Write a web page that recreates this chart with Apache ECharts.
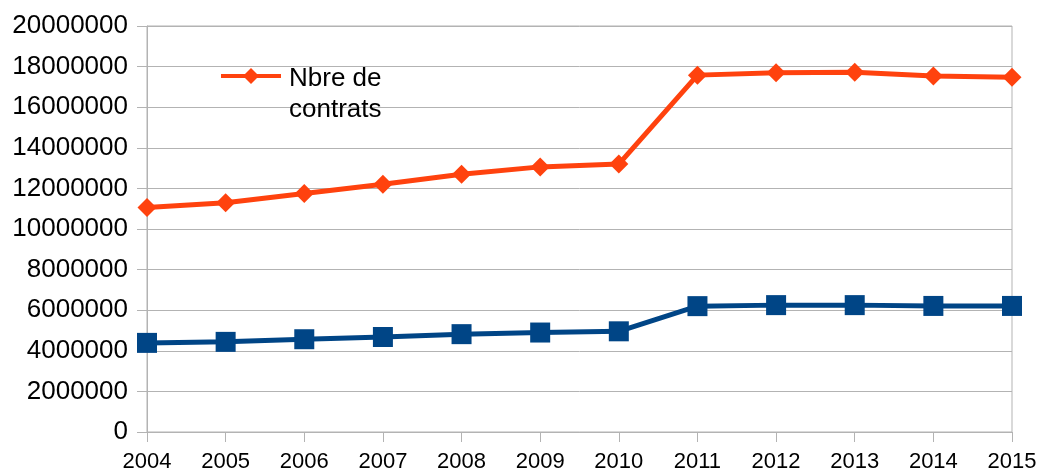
<!DOCTYPE html>
<html>
<head>
<meta charset="utf-8">
<script src="https://cdn.jsdelivr.net/npm/echarts@6/dist/echarts.min.js"></script>
<style>
  html, body { margin: 0; padding: 0; background: #ffffff; }
  #chart { width: 1043px; height: 475px; }
</style>
</head>
<body>
<div id="chart"></div>
<script>
// Years on the category axis
const years = ['2004', '2005', '2006', '2007', '2008', '2009', '2010', '2011', '2012', '2013', '2014', '2015'];

// Number of contracts per year
const contrats = [11060000, 11290000, 11750000, 12200000, 12700000, 13060000, 13200000, 17580000, 17700000, 17720000, 17540000, 17470000];

// Second series (no legend entry)
const serie2 = [4390000, 4440000, 4570000, 4680000, 4820000, 4900000, 4960000, 6200000, 6250000, 6250000, 6210000, 6210000];

// Value axis range
const yMin = 0;
const yMax = 20000000;
const yStep = 2000000;

const gridColor = '#b3b3b3';
const font = 'Liberation Sans, Arial, sans-serif';

const chart = echarts.init(document.getElementById('chart'), null, { renderer: 'canvas' });

chart.setOption({
  animation: false,
  backgroundColor: '#ffffff',
  grid: {
    left: 147, right: 31, top: 26, bottom: 43,
    outerBoundsMode: 'none',
    containLabel: false,
    show: true, borderColor: gridColor, borderWidth: 1, backgroundColor: 'transparent'
  },
  legend: {
    data: ['Nbre de contrats'],
    left: 219,
    top: 40,
    padding: 0,
    itemWidth: 60,
    itemHeight: 20,
    itemGap: 10,
    lineStyle: { width: 4 },
    // a blank first line keeps "Nbre de" level with the legend marker
    formatter: () => '{e| }\n{t|Nbre de}\n{t|contrats}',
    textStyle: {
      fontFamily: font,
      fontSize: 26,
      color: '#000000',
      rich: {
        e: { fontSize: 10, lineHeight: 37, fontFamily: font },
        t: { fontSize: 26, lineHeight: 31, fontFamily: font, color: '#000000', padding: [0, 0, 0, 3] }
      }
    }
  },
  xAxis: {
    type: 'category',
    data: years,
    boundaryGap: false,
    axisLine: { show: true, lineStyle: { color: gridColor, width: 1 } },
    axisTick: { show: true, inside: false, length: 10, lineStyle: { color: gridColor } },
    axisLabel: { fontFamily: font, fontSize: 22, color: '#000000', margin: 19 },
    splitLine: { show: false }
  },
  yAxis: {
    type: 'value',
    min: yMin,
    max: yMax,
    interval: yStep,
    axisLine: { show: true, lineStyle: { color: gridColor, width: 1 } },
    axisTick: { show: true, inside: false, length: 10, lineStyle: { color: gridColor } },
    axisLabel: {
      fontFamily: font, fontSize: 26, color: '#000000', margin: 19,
      formatter: (v) => String(v)
    },
    splitLine: { show: true, lineStyle: { color: gridColor, width: 1 } }
  },
  series: [
    {
      name: 'Nbre de contrats',
      type: 'line',
      data: contrats,
      symbol: 'diamond',
      symbolSize: 19,
      color: '#ff420e',
      lineStyle: { color: '#ff420e', width: 5 },
      itemStyle: { color: '#ff420e' },
      z: 3
    },
    {
      name: 'Série 2',
      type: 'line',
      data: serie2,
      symbol: 'rect',
      symbolSize: 20,
      color: '#004586',
      lineStyle: { color: '#004586', width: 5 },
      itemStyle: { color: '#004586' },
      z: 2
    }
  ]
});
</script>
</body>
</html>
